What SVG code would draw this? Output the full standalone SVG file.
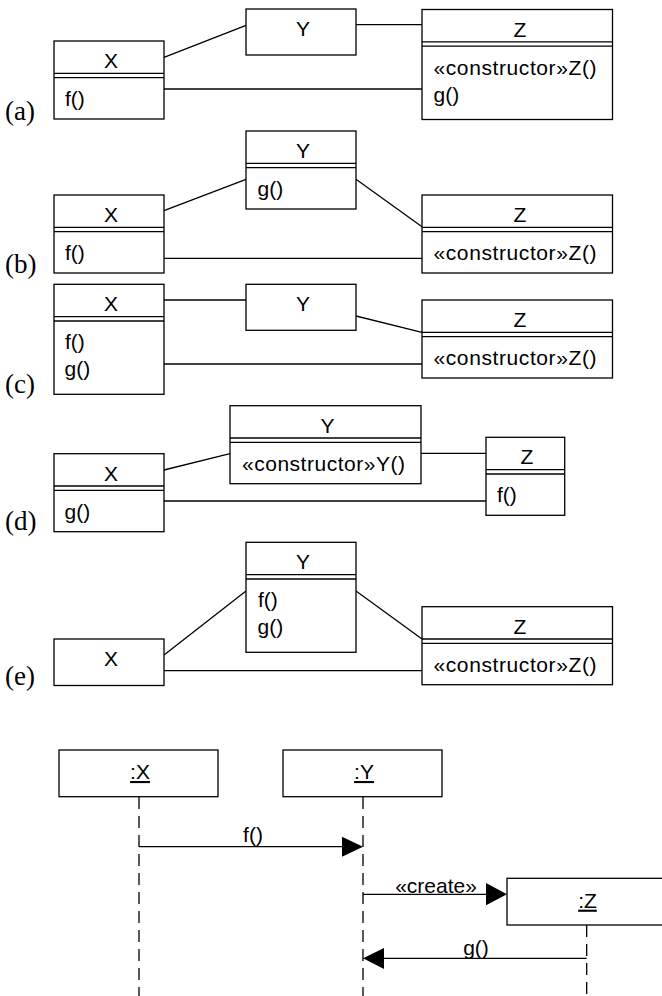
<svg xmlns="http://www.w3.org/2000/svg" width="662" height="996" viewBox="0 0 662 996">
<style>
.box{fill:#fff;stroke:#000;stroke-width:1.3}
.ln{stroke:#000;stroke-width:1.3;fill:none}
.t{font-family:"Liberation Sans",Arial,sans-serif;font-size:21px;fill:#000}
.c{text-anchor:middle}
.u{text-decoration:underline}
.lab{font-family:"Liberation Serif","Times New Roman",serif;font-size:27px;fill:#000}
.life{stroke:#000;stroke-width:1.3;stroke-dasharray:12 7;fill:none}
</style>
<rect width="662" height="996" fill="#fff"/>

<!-- panel labels -->
<g id="labels">
<text class="lab" x="5" y="120">(a)</text>
<text class="lab" x="5" y="273">(b)</text>
<text class="lab" x="5" y="393">(c)</text>
<text class="lab" x="5" y="530">(d)</text>
<text class="lab" x="5" y="685">(e)</text>
</g>

<!-- connectors -->
<g id="connectors" class="ln">
<line x1="164" y1="57.3" x2="246" y2="25.3"/>
<line x1="356" y1="24.7" x2="422" y2="24.7"/>
<line x1="164" y1="89" x2="422" y2="89"/>

<line x1="164" y1="210.7" x2="246" y2="179.3"/>
<line x1="356" y1="179.3" x2="422" y2="226.8"/>
<line x1="164" y1="258.3" x2="422" y2="258.3"/>

<line x1="164" y1="300" x2="246" y2="300"/>
<line x1="356" y1="316" x2="422" y2="332.3"/>
<line x1="164" y1="364" x2="422" y2="364"/>

<line x1="164" y1="470" x2="230" y2="453.7"/>
<line x1="421" y1="453.3" x2="486" y2="453.3"/>
<line x1="164" y1="501" x2="486" y2="501"/>

<line x1="164" y1="655" x2="246" y2="591"/>
<line x1="356" y1="591" x2="422" y2="639"/>
<line x1="164" y1="670.7" x2="422" y2="670.7"/>
</g>

<!-- (a) -->
<g id="a-X">
<rect class="box" x="54" y="41" width="110" height="78"/>
<line class="ln" x1="54" y1="73.3" x2="164" y2="73.3"/><line class="ln" x1="54" y1="77.7" x2="164" y2="77.7"/>
<text class="t c" x="111" y="68">X</text>
<text class="t" x="65" y="106">f()</text>
</g>
<g id="a-Y">
<rect class="box" x="246" y="9" width="110" height="46"/>
<text class="t c" x="303" y="36">Y</text>
</g>
<g id="a-Z">
<rect class="box" x="422" y="9.5" width="190.5" height="110"/>
<line class="ln" x1="422" y1="41.8" x2="612.5" y2="41.8"/><line class="ln" x1="422" y1="46.2" x2="612.5" y2="46.2"/>
<text class="t c" x="520" y="36.5">Z</text>
<text class="t" x="433.5" y="74.5" textLength="163" lengthAdjust="spacing">«constructor»Z()</text>
<text class="t" x="433.5" y="101.5">g()</text>
</g>

<!-- (b) -->
<g id="b-Y">
<rect class="box" x="246" y="131" width="110" height="78"/>
<line class="ln" x1="246" y1="163.3" x2="356" y2="163.3"/><line class="ln" x1="246" y1="167.7" x2="356" y2="167.7"/>
<text class="t c" x="303" y="158">Y</text>
<text class="t" x="257.5" y="196">g()</text>
</g>
<g id="b-X">
<rect class="box" x="54" y="195" width="110" height="78"/>
<line class="ln" x1="54" y1="227.3" x2="164" y2="227.3"/><line class="ln" x1="54" y1="231.7" x2="164" y2="231.7"/>
<text class="t c" x="111" y="222">X</text>
<text class="t" x="65" y="260">f()</text>
</g>
<g id="b-Z">
<rect class="box" x="422" y="195" width="190.5" height="78"/>
<line class="ln" x1="422" y1="227.3" x2="612.5" y2="227.3"/><line class="ln" x1="422" y1="231.7" x2="612.5" y2="231.7"/>
<text class="t c" x="520" y="222">Z</text>
<text class="t" x="433.5" y="260" textLength="163" lengthAdjust="spacing">«constructor»Z()</text>
</g>

<!-- (c) -->
<g id="c-X">
<rect class="box" x="54" y="284.3" width="110" height="110"/>
<line class="ln" x1="54" y1="316.6" x2="164" y2="316.6"/><line class="ln" x1="54" y1="321" x2="164" y2="321"/>
<text class="t c" x="111" y="311.3">X</text>
<text class="t" x="65" y="349.3">f()</text>
<text class="t" x="64.5" y="376.3">g()</text>
</g>
<g id="c-Y">
<rect class="box" x="246" y="284.3" width="110" height="46"/>
<text class="t c" x="303" y="311.3">Y</text>
</g>
<g id="c-Z">
<rect class="box" x="422" y="300" width="190.5" height="78"/>
<line class="ln" x1="422" y1="332.3" x2="612.5" y2="332.3"/><line class="ln" x1="422" y1="336.7" x2="612.5" y2="336.7"/>
<text class="t c" x="520" y="327">Z</text>
<text class="t" x="433.5" y="365" textLength="163" lengthAdjust="spacing">«constructor»Z()</text>
</g>

<!-- (d) -->
<g id="d-Y">
<rect class="box" x="230" y="405.7" width="191" height="78"/>
<line class="ln" x1="230" y1="438" x2="421" y2="438"/><line class="ln" x1="230" y1="442.4" x2="421" y2="442.4"/>
<text class="t c" x="327.5" y="432.7">Y</text>
<text class="t" x="242" y="470.7" textLength="163" lengthAdjust="spacing">«constructor»Y()</text>
</g>
<g id="d-X">
<rect class="box" x="54" y="453.7" width="110" height="78"/>
<line class="ln" x1="54" y1="486" x2="164" y2="486"/><line class="ln" x1="54" y1="490.4" x2="164" y2="490.4"/>
<text class="t c" x="111" y="480.7">X</text>
<text class="t" x="64.5" y="518.7">g()</text>
</g>
<g id="d-Z">
<rect class="box" x="486" y="437.3" width="78.7" height="78"/>
<line class="ln" x1="486" y1="469.6" x2="564.7" y2="469.6"/><line class="ln" x1="486" y1="474" x2="564.7" y2="474"/>
<text class="t c" x="527" y="464.3">Z</text>
<text class="t" x="497" y="502.3">f()</text>
</g>

<!-- (e) -->
<g id="e-Y">
<rect class="box" x="246" y="542.3" width="110" height="110"/>
<line class="ln" x1="246" y1="574.6" x2="356" y2="574.6"/><line class="ln" x1="246" y1="579" x2="356" y2="579"/>
<text class="t c" x="303" y="569.3">Y</text>
<text class="t" x="258" y="607.3">f()</text>
<text class="t" x="257.5" y="634.3">g()</text>
</g>
<g id="e-X">
<rect class="box" x="54" y="639" width="110" height="46.5"/>
<text class="t c" x="111" y="666">X</text>
</g>
<g id="e-Z">
<rect class="box" x="422" y="606.7" width="190.5" height="78"/>
<line class="ln" x1="422" y1="639" x2="612.5" y2="639"/><line class="ln" x1="422" y1="643.4" x2="612.5" y2="643.4"/>
<text class="t c" x="520" y="633.7">Z</text>
<text class="t" x="433.5" y="671.7" textLength="163" lengthAdjust="spacing">«constructor»Z()</text>
</g>

<!-- sequence diagram -->
<g id="seq-lifelines">
<line class="life" x1="139" y1="797" x2="139" y2="996"/>
<line class="life" x1="363" y1="797" x2="363" y2="996"/>
<line class="life" x1="586.7" y1="925" x2="586.7" y2="996"/>
</g>
<g id="seq-X">
<rect class="box" x="59" y="750" width="159" height="46.7"/>
<text class="t c u" x="140" y="779">:X</text>
</g>
<g id="seq-Y">
<rect class="box" x="283" y="750" width="159" height="46.7"/>
<text class="t c u" x="364" y="779">:Y</text>
</g>
<g id="seq-Z">
<rect class="box" x="507" y="878.3" width="159" height="46.7"/>
<text class="t c u" x="587.5" y="907.7">:Z</text>
</g>
<g id="seq-messages">
<line class="ln" x1="139" y1="846.7" x2="345" y2="846.7"/>
<polygon points="363,846.7 342,836.7 342,856.7" fill="#000"/>
<text class="t c" x="253" y="842">f()</text>
<line class="ln" x1="363" y1="894.3" x2="489" y2="894.3"/>
<polygon points="507,894.3 486,883 486,905.3" fill="#000"/>
<text class="t c" x="436" y="892.5">«create»</text>
<line class="ln" x1="586.7" y1="958.3" x2="381" y2="958.3"/>
<polygon points="363,958.3 384,948 384,969" fill="#000"/>
<text class="t c" x="476" y="954.5">g()</text>
</g>
</svg>
